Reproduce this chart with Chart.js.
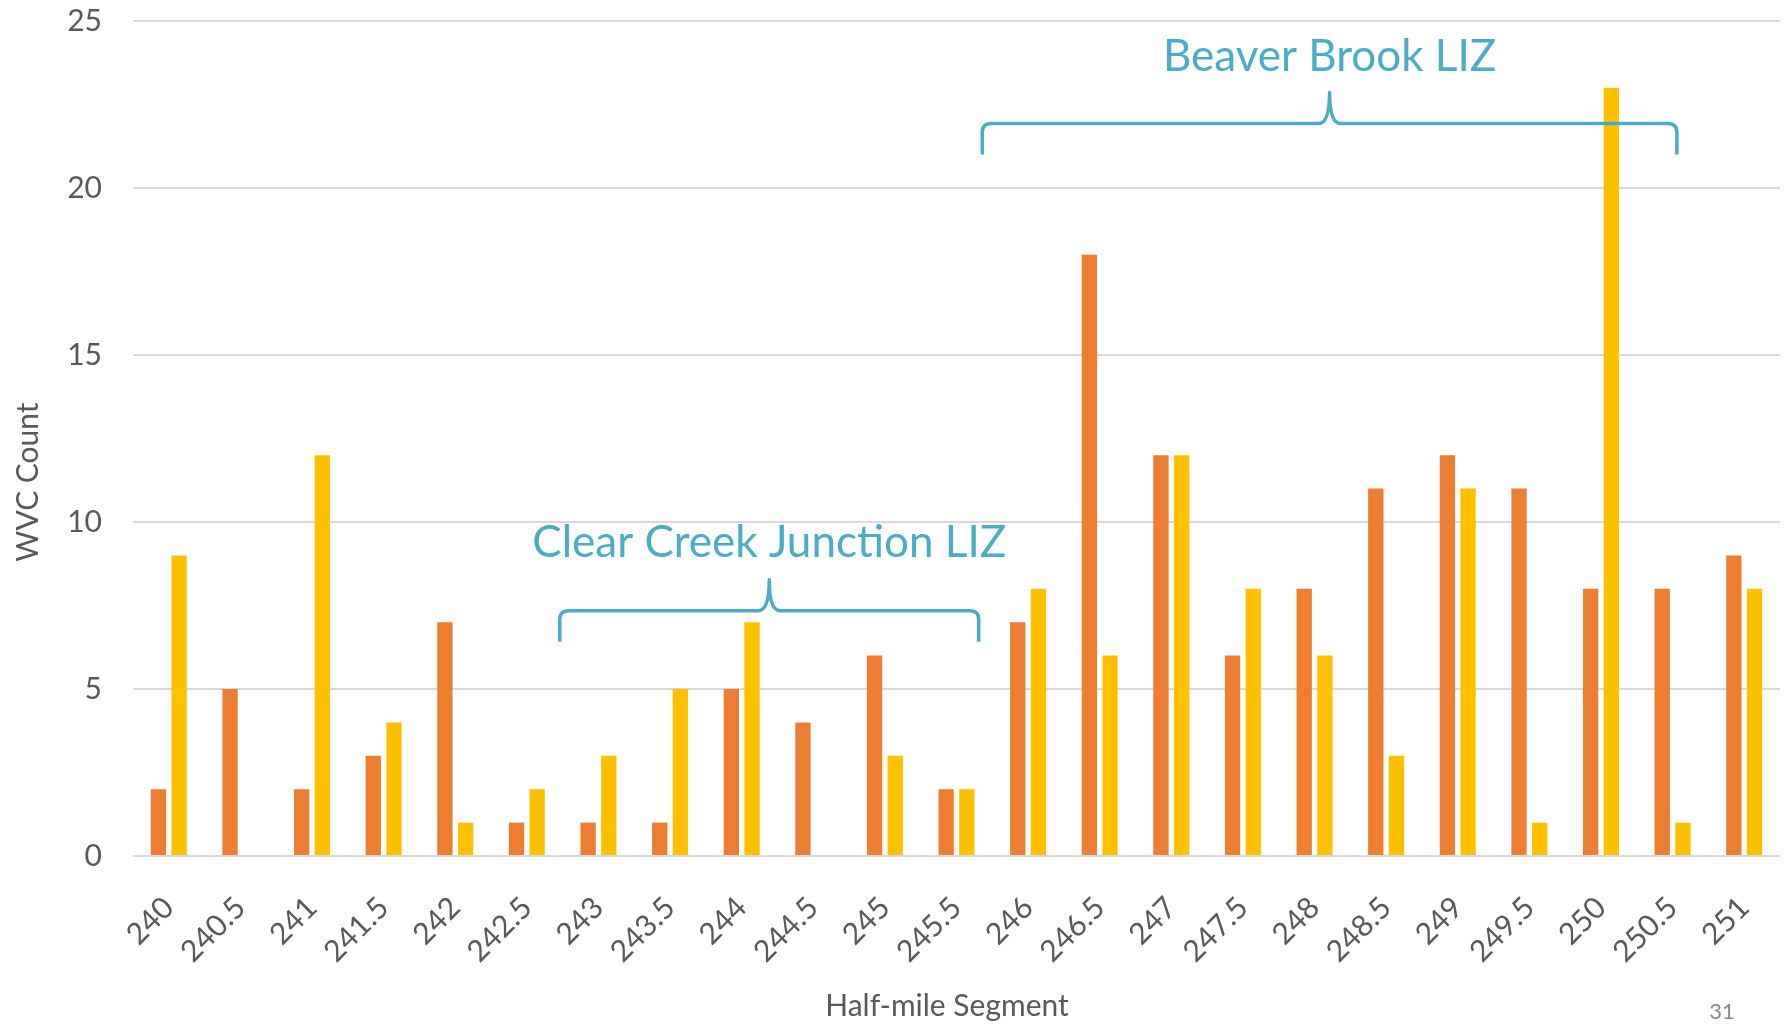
<!DOCTYPE html>
<html>
<head>
<meta charset="utf-8">
<script src="https://cdn.jsdelivr.net/npm/chart.js@4.4.1/dist/chart.umd.min.js"></script>
<style>
  html, body { margin: 0; padding: 0; background: #fff; }
  #wrap { width: 1791px; height: 1026px; position: relative; }
</style>
</head>
<body>
<div id="wrap"><canvas id="wvcChart"></canvas></div>
<script>
// half-mile segments along the corridor
const segments = ['240', '240.5', '241', '241.5', '242', '242.5', '243', '243.5', '244', '244.5',
  '245', '245.5', '246', '246.5', '247', '247.5', '248', '248.5', '249', '249.5', '250', '250.5', '251'];
const countsOrange = [2, 5, 2, 3, 7, 1, 1, 1, 5, 4, 6, 2, 7, 18, 12, 6, 8, 11, 12, 11, 8, 8, 9];
const countsYellow = [9, 0, 12, 4, 1, 2, 3, 5, 7, 0, 3, 2, 8, 6, 12, 8, 6, 3, 11, 1, 23, 1, 8];
const yTicks = [0, 5, 10, 15, 20, 25];

// LIZ brackets, in category index / WVC count units
const zoneLabels = ['Clear Creek Junction LIZ', 'Beaver Brook LIZ'];
const zoneFrom = [5.46, 11.36];
const zoneTo = [11.31, 21.06];
const zoneLevel = [7.34, 21.93];
const zoneTextLevel = [9.37, 23.92];

const TEAL = '#4BACC6';
const GREY = '#595959';

const braces = {
  id: 'braces',
  afterDatasetsDraw(chart) {
    const { ctx, scales: { x, y } } = chart;
    ctx.save();
    ctx.strokeStyle = TEAL;
    ctx.lineWidth = 3.5;
    ctx.lineJoin = 'round';
    zoneLabels.forEach((label, i) => {
      const x0 = x.getPixelForValue(zoneFrom[i]);
      const x1 = x.getPixelForValue(zoneTo[i]);
      const xc = (x0 + x1) / 2;
      const yl = y.getPixelForValue(zoneLevel[i]);
      const depth = 31, r = 9, tip = 11;
      ctx.beginPath();
      ctx.moveTo(x0, yl + depth);
      ctx.lineTo(x0, yl + r);
      ctx.quadraticCurveTo(x0, yl, x0 + r, yl);
      ctx.lineTo(xc - tip, yl);
      ctx.quadraticCurveTo(xc, yl, xc, yl - depth);
      ctx.quadraticCurveTo(xc, yl, xc + tip, yl);
      ctx.lineTo(x1 - r, yl);
      ctx.quadraticCurveTo(x1, yl, x1, yl + r);
      ctx.lineTo(x1, yl + depth);
      ctx.stroke();

      ctx.fillStyle = TEAL;
      ctx.font = '44px Lato';
      ctx.textAlign = 'center';
      ctx.textBaseline = 'middle';
      ctx.fillText(label, xc, y.getPixelForValue(zoneTextLevel[i]));
    });

    // axis titles (placed like the slide, not centred on the plot)
    ctx.fillStyle = GREY;
    ctx.font = '30px Lato';
    ctx.textAlign = 'center';
    ctx.textBaseline = 'middle';
    ctx.fillText('Half-mile Segment', 947, 1006);
    ctx.save();
    ctx.translate(28, 482);
    ctx.rotate(-Math.PI / 2);
    ctx.fillText('WVC Count', 0, 0);
    ctx.restore();

    // slide number
    ctx.fillStyle = '#8a8a8a';
    ctx.font = '22px Lato';
    ctx.fillText('31', 1722, 1012);
    ctx.restore();
  }
};

new Chart(document.getElementById('wvcChart'), {
  type: 'bar',
  data: {
    labels: segments,
    datasets: [
      { label: 'A', data: countsOrange, backgroundColor: '#ED7D31' },
      { label: 'B', data: countsYellow, backgroundColor: '#FFC000' }
    ]
  },
  options: {
    responsive: true,
    maintainAspectRatio: false,
    animation: false,
    datasets: { bar: { categoryPercentage: 0.578, barPercentage: 0.74 } },
    layout: { padding: { top: 21, right: 11, left: 0, bottom: 0 } },
    scales: {
      x: {
        grid: { display: false, drawTicks: false },
        border: { display: false },
        ticks: {
          autoSkip: false,
          minRotation: 45,
          maxRotation: 45,
          padding: 34,
          color: GREY,
          font: { family: 'Lato', size: 30 }
        },
        afterFit(scale) {
          scale.height = 170;
          scale.paddingLeft = 0;
          scale.paddingRight = 0;
        }
      },
      y: {
        min: 0,
        max: 25,
        afterBuildTicks(scale) { scale.ticks = yTicks.map(v => ({ value: v })); },
        grid: { color: '#D9D9D9', lineWidth: 2, drawTicks: false },
        border: { display: false },
        ticks: {
          padding: 31,
          color: GREY,
          font: { family: 'Lato', size: 30 }
        },
        afterFit(scale) {
          scale.width = 133;
          scale.paddingTop = 0;
          scale.paddingBottom = 0;
        }
      }
    },
    plugins: {
      legend: { display: false },
      tooltip: { enabled: false }
    }
  },
  plugins: [braces]
});
</script>
</body>
</html>
